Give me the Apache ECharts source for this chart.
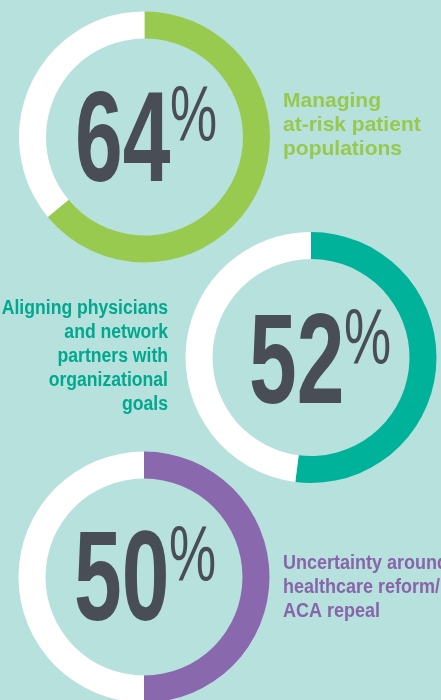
<!DOCTYPE html>
<html>
<head>
<meta charset="utf-8">
<script src="https://cdn.jsdelivr.net/npm/echarts@6/dist/echarts.min.js"></script>
<style>
html,body{margin:0;padding:0;background:#b7e1dc;}
#chart{width:441px;height:700px;}
</style>
</head>
<body>
<div id="chart"></div>
<script>
// Data
const categories = [
  'Managing\nat-risk patient\npopulations',
  'Aligning physicians\nand network\npartners with\norganizational\ngoals',
  'Uncertainty around\nhealthcare reform/\nACA repeal'
];
const percentValues = [64, 52, 50];
const ringColors = ['#98ca50', '#00b29a', '#8a68ae'];
const labelColors = ['#97c94e', '#00a88f', '#8864ab'];

// Layout (positions only)
const centers = [[144.5, 137], [311, 357.5], [144, 577]];
const numberPos = [[75, 145.5], [249, 368], [74, 585]];
const labelPos = [
  {x: 283, y: 125, align: 'left', size: 21, sx: 1},
  {x: 168, y: 356, align: 'right', size: 20, sx: 0.88},
  {x: 283, y: 587, align: 'left', size: 20, sx: 0.9}
];

const chart = echarts.init(document.getElementById('chart'), null, {renderer: 'canvas'});

const series = percentValues.map((v, i) => ({
  type: 'pie',
  silent: true,
  center: centers[i],
  radius: [98.5, 125.5],
  startAngle: 90,
  clockwise: true,
  label: {show: false},
  labelLine: {show: false},
  emphasis: {disabled: true},
  data: [
    {value: v, name: categories[i], itemStyle: {color: ringColors[i]}},
    {value: 100 - v, name: 'rest', itemStyle: {color: '#ffffff'}}
  ]
}));

const graphic = [];
percentValues.forEach((v, i) => {
  const [nx, ny] = numberPos[i];
  graphic.push({
    type: 'text',
    x: nx, y: ny,
    scaleX: 0.67, scaleY: 1,
    style: {
      text: String(v),
      font: 'bold 128px "Liberation Sans", Arial, sans-serif',
      fill: '#494d55',
      textAlign: 'left',
      textVerticalAlign: 'middle'
    }
  });
  graphic.push({
    type: 'text',
    x: nx + 95, y: ny - 26,
    scaleX: 0.68, scaleY: 1,
    style: {
      text: '%',
      font: 'normal 78px "Liberation Sans", Arial, sans-serif',
      fill: '#494d55',
      textAlign: 'left',
      textVerticalAlign: 'middle'
    }
  });
  const lp = labelPos[i];
  graphic.push({
    type: 'text',
    x: lp.x, y: lp.y,
    scaleX: lp.sx, scaleY: 1,
    style: {
      text: categories[i],
      font: 'bold ' + lp.size + 'px "Liberation Sans", Arial, sans-serif',
      lineHeight: 24,
      fill: labelColors[i],
      textAlign: lp.align,
      textVerticalAlign: 'middle'
    }
  });
});

chart.setOption({
  backgroundColor: '#b7e1dc',
  animation: false,
  series: series,
  graphic: graphic
});
</script>
</body>
</html>
